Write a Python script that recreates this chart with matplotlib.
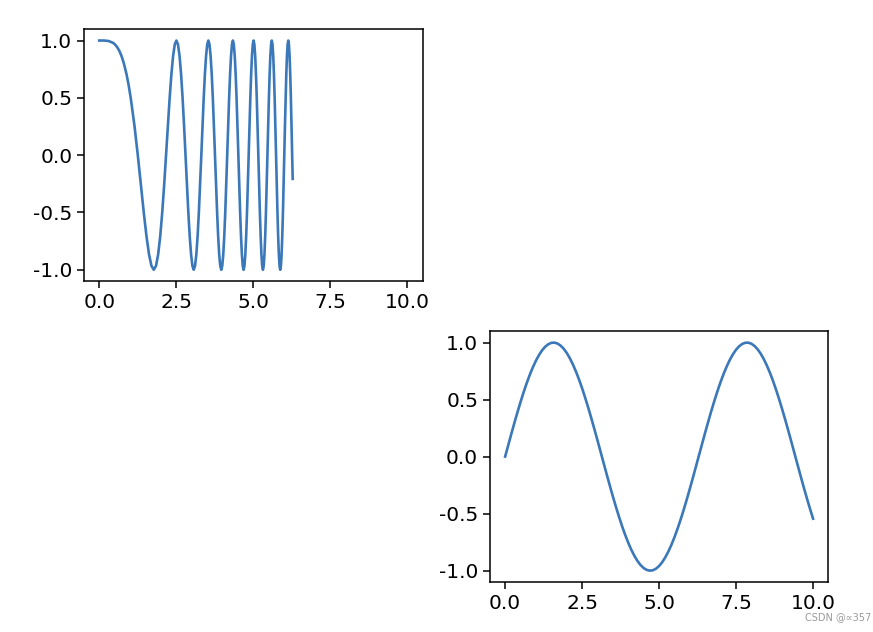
import matplotlib.pyplot as plt

# --- data ---
# top-left panel: fast oscillating curve (cos of x squared look)
x_top = [0.0, 0.15, 0.3, 0.45, 0.5117, 0.58, 0.65, 0.7236, 0.8, 0.8862, 0.95,
         1.0233, 1.1441, 1.2533, 1.3537, 1.4472, 1.5350, 1.6180, 1.6970,
         1.7725, 1.8448, 1.9145, 1.9817, 2.0466, 2.1097, 2.1708, 2.2303,
         2.2882, 2.3447, 2.3999, 2.4539,
         2.5066, 2.5583, 2.6090, 2.6587, 2.7075, 2.7554, 2.8025, 2.8488, 2.8944, 2.9393, 2.9835, 3.0270,
         3.0700, 3.1123, 3.1541, 3.1953, 3.2361, 3.2762, 3.3160, 3.3552, 3.3940, 3.4324, 3.4703, 3.5078,
         3.5449, 3.5816, 3.6180, 3.6540, 3.6897, 3.7250, 3.7599, 3.7946, 3.8290, 3.8630, 3.8967, 3.9302,
         3.9633, 3.9962, 4.0289, 4.0612, 4.0933, 4.1252, 4.1568, 4.1881, 4.2193, 4.2502, 4.2809, 4.3114,
         4.3416, 4.3716, 4.4015, 4.4311, 4.4606, 4.4898, 4.5189, 4.5478, 4.5765, 4.6050, 4.6333, 4.6615,
         4.6895, 4.7173, 4.7450, 4.7725, 4.7998, 4.8270, 4.8541, 4.8810, 4.9077, 4.9343, 4.9608, 4.9871,
         5.0133, 5.0393, 5.0652, 5.0910, 5.1166, 5.1422, 5.1675, 5.1928, 5.2180, 5.2430, 5.2679, 5.2927,
         5.3174, 5.3419, 5.3664, 5.3907, 5.4149, 5.4390, 5.4631, 5.4870, 5.5108, 5.5345, 5.5581, 5.5816,
         5.6050, 5.6283, 5.6515, 5.6746, 5.6976, 5.7206, 5.7434, 5.7662, 5.7888, 5.8114, 5.8338, 5.8563,
         5.8785, 5.9008, 5.9229, 5.9450, 5.9670, 5.9889, 6.0107, 6.0324, 6.0541, 6.0757, 6.0972, 6.1186,
         6.1400, 6.1612, 6.1825, 6.2036, 6.2247, 6.2456, 6.2666, 6.2832]
y_top = [1.0, 1.0, 0.996, 0.980, 0.966, 0.944, 0.912, 0.866, 0.802, 0.707, 0.620,
         0.5, 0.259, 0.0, -0.259, -0.5, -0.707, -0.866, -0.966,
         -1.0, -0.966, -0.866, -0.707, -0.5, -0.259, 0.0, 0.259,
         0.5, 0.707, 0.866, 0.966,
         1.0, 0.966, 0.866, 0.707, 0.5, 0.259, 0.0, -0.259, -0.5, -0.707, -0.866, -0.966,
         -1.0, -0.966, -0.866, -0.707, -0.5, -0.259, 0.0, 0.259, 0.5, 0.707, 0.866, 0.966,
         1.0, 0.966, 0.866, 0.707, 0.5, 0.259, 0.0, -0.259, -0.5, -0.707, -0.866, -0.966,
         -1.0, -0.966, -0.866, -0.707, -0.5, -0.259, 0.0, 0.259, 0.5, 0.707, 0.866, 0.966,
         1.0, 0.966, 0.866, 0.707, 0.5, 0.259, 0.0, -0.259, -0.5, -0.707, -0.866, -0.966,
         -1.0, -0.966, -0.866, -0.707, -0.5, -0.259, 0.0, 0.259, 0.5, 0.707, 0.866, 0.966,
         1.0, 0.966, 0.866, 0.707, 0.5, 0.259, 0.0, -0.259, -0.5, -0.707, -0.866, -0.966,
         -1.0, -0.966, -0.866, -0.707, -0.5, -0.259, 0.0, 0.259, 0.5, 0.707, 0.866, 0.966,
         1.0, 0.966, 0.866, 0.707, 0.5, 0.259, 0.0, -0.259, -0.5, -0.707, -0.866, -0.966,
         -1.0, -0.966, -0.866, -0.707, -0.5, -0.259, 0.0, 0.259, 0.5, 0.707, 0.866, 0.966,
         1.0, 0.966, 0.866, 0.707, 0.5, 0.259, 0.0, -0.207]

# bottom-right panel: slow sine wave
x_bot = [0.0, 0.1, 0.2, 0.3, 0.4, 0.5, 0.6, 0.7, 0.8, 0.9,
         1.0, 1.1, 1.2, 1.3, 1.4, 1.5, 1.6, 1.7, 1.8, 1.9,
         2.0, 2.1, 2.2, 2.3, 2.4, 2.5, 2.6, 2.7, 2.8, 2.9,
         3.0, 3.1, 3.2, 3.3, 3.4, 3.5, 3.6, 3.7, 3.8, 3.9,
         4.0, 4.1, 4.2, 4.3, 4.4, 4.5, 4.6, 4.7, 4.8, 4.9,
         5.0, 5.1, 5.2, 5.3, 5.4, 5.5, 5.6, 5.7, 5.8, 5.9,
         6.0, 6.1, 6.2, 6.3, 6.4, 6.5, 6.6, 6.7, 6.8, 6.9,
         7.0, 7.1, 7.2, 7.3, 7.4, 7.5, 7.6, 7.7, 7.8, 7.9,
         8.0, 8.1, 8.2, 8.3, 8.4, 8.5, 8.6, 8.7, 8.8, 8.9,
         9.0, 9.1, 9.2, 9.3, 9.4, 9.5, 9.6, 9.7, 9.8, 9.9,
         10.0]
y_bot = [0.0, 0.0998, 0.1987, 0.2955, 0.3894, 0.4794, 0.5646, 0.6442, 0.7174, 0.7833,
         0.8415, 0.8912, 0.9320, 0.9636, 0.9854, 0.9975, 0.9996, 0.9917, 0.9738, 0.9463,
         0.9093, 0.8632, 0.8085, 0.7457, 0.6755, 0.5985, 0.5155, 0.4274, 0.3350, 0.2392,
         0.1411, 0.0416, -0.0584, -0.1577, -0.2555, -0.3508, -0.4425, -0.5298, -0.6119, -0.6878,
         -0.7568, -0.8183, -0.8716, -0.9162, -0.9516, -0.9775, -0.9937, -0.9999, -0.9962, -0.9825,
         -0.9589, -0.9258, -0.8835, -0.8323, -0.7728, -0.7055, -0.6313, -0.5507, -0.4646, -0.3739,
         -0.2794, -0.1822, -0.0831, 0.0168, 0.1165, 0.2151, 0.3115, 0.4048, 0.4941, 0.5784,
         0.6570, 0.7290, 0.7937, 0.8504, 0.8987, 0.9380, 0.9679, 0.9882, 0.9985, 0.9989,
         0.9894, 0.9699, 0.9407, 0.9022, 0.8546, 0.7985, 0.7344, 0.6630, 0.5849, 0.5010,
         0.4121, 0.3191, 0.2229, 0.1245, 0.0248, -0.0752, -0.1743, -0.2718, -0.3665, -0.4575,
         -0.5440]

xticks = [0.0, 2.5, 5.0, 7.5, 10.0]
yticks = [-1.0, -0.5, 0.0, 0.5, 1.0]

plt.rcParams['axes.unicode_minus'] = False
plt.rcParams['font.size'] = 14.5
line_color = '#3b78b9'

fig = plt.figure(figsize=(8.73, 6.32), dpi=100)
ax1 = fig.add_axes([0.096, 0.555, 0.388, 0.399])
ax2 = fig.add_axes([0.561, 0.079, 0.388, 0.397])

ax1.plot(x_top, y_top, color=line_color, lw=1.9)
ax2.plot(x_bot, y_bot, color=line_color, lw=1.9)

for ax in (ax1, ax2):
    ax.set_xlim(-0.5, 10.5)
    ax.set_ylim(-1.1, 1.1)
    ax.set_xticks(xticks)
    ax.set_yticks(yticks)
    ax.set_xticklabels([f'{t:.1f}' for t in xticks])
    ax.set_yticklabels([f'{t:.1f}' for t in yticks])
    ax.tick_params(length=4.8, width=1.1)
    for s in ax.spines.values():
        s.set_linewidth(1.1)

fig.text(0.998, 0.015, 'CSDN @\u221d357', fontsize=7, color='#999999', ha='right', va='bottom')

fig.savefig('out.png', dpi=100)
